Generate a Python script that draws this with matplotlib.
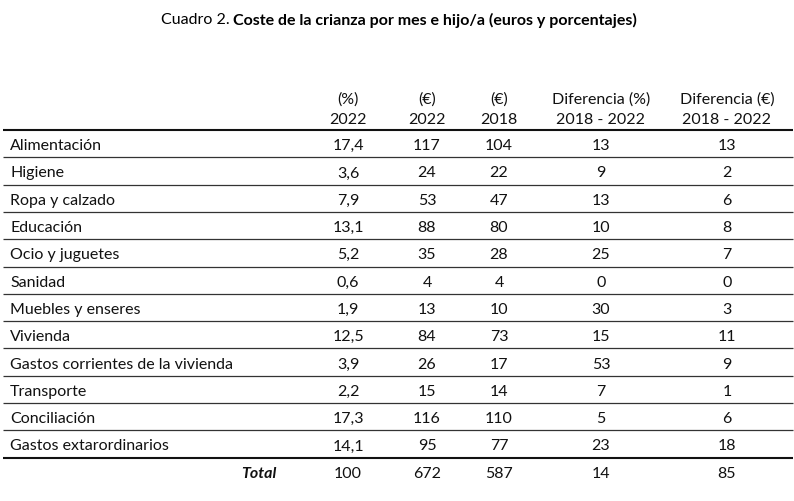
import matplotlib
matplotlib.use("Agg")
import matplotlib.pyplot as plt

categories = ["Alimentación", "Higiene", "Ropa y calzado", "Educación", "Ocio y juguetes",
              "Sanidad", "Muebles y enseres", "Vivienda", "Gastos corrientes de la vivienda",
              "Transporte", "Conciliación", "Gastos extarordinarios"]
pct_2022 = ["17,4", "3,6", "7,9", "13,1", "5,2", "0,6", "1,9", "12,5", "3,9", "2,2", "17,3", "14,1"]
eur_2022 = [117, 24, 53, 88, 35, 4, 13, 84, 26, 15, 116, 95]
eur_2018 = [104, 22, 47, 80, 28, 4, 10, 73, 17, 14, 110, 77]
dif_pct = [13, 9, 13, 10, 25, 0, 30, 15, 53, 7, 5, 23]
dif_eur = [13, 2, 6, 8, 7, 0, 3, 11, 9, 1, 6, 18]
total_row = ["100", "672", "587", "14", "85"]
headers_top = ["(%)", "(€)", "(€)", "Diferencia (%)", "Diferencia (€)"]
headers_bottom = ["2022", "2022", "2018", "2018 - 2022", "2018 - 2022"]

W, H = 794, 502
fig = plt.figure(figsize=(W / 100, H / 100), dpi=100)
ax = fig.add_axes([0, 0, 1, 1])
ax.set_xlim(0, W)
ax.set_ylim(H, 0)
ax.axis("off")

FONT = "Lato"
fs = 11.5
col_x = [348, 427, 499, 601, 727]
label_x = 10
dy = 1.5

# Title
t1 = ax.text(0, 19 + dy, "Cuadro 2. ", fontsize=fs, family=FONT, va="center", ha="left")
t2 = ax.text(0, 19 + dy, "Coste de la crianza por mes e hijo/a (euros y porcentajes)",
             fontsize=fs, family=FONT, fontweight="bold", va="center", ha="left")
fig.canvas.draw()
r = fig.canvas.get_renderer()
w1 = t1.get_window_extent(r).width
w2 = t2.get_window_extent(r).width
start = 399 - (w1 + w2) / 2
t1.set_x(start)
t2.set_x(start + w1)

# Headers
for x, a, b in zip(col_x, headers_top, headers_bottom):
    ax.text(x, 98 + dy, a, fontsize=fs, family=FONT, ha="center", va="center", color="#111111")
    ax.text(x, 118 + dy, b, fontsize=fs, family=FONT, ha="center", va="center", color="#111111")

x0, x1 = 3, 793
ax.plot([x0, x1], [131, 131], color="#111111", lw=1.5, solid_capstyle="butt")

row_h = 27.3
first_line = 131
for i, cat in enumerate(categories):
    yc = first_line + row_h * i + row_h / 2 + dy
    vals = [pct_2022[i], eur_2022[i], eur_2018[i], dif_pct[i], dif_eur[i]]
    ax.text(label_x, yc, cat, fontsize=fs, family=FONT, ha="left", va="center", color="#111111")
    for x, v in zip(col_x, vals):
        ax.text(x, yc, str(v), fontsize=fs, family=FONT, ha="center", va="center", color="#111111")
    yl = first_line + row_h * (i + 1)
    if i < len(categories) - 1:
        ax.plot([x0, x1], [yl, yl], color="#333333", lw=0.9, solid_capstyle="butt")
    else:
        ax.plot([x0, x1], [yl, yl], color="#111111", lw=1.5, solid_capstyle="butt")

yt = first_line + row_h * len(categories) + 14 + dy
ax.text(277, yt, "Total", fontsize=fs, family=FONT, fontweight="bold", style="italic",
        ha="right", va="center", color="#111111")
for x, v in zip(col_x, total_row):
    ax.text(x, yt, v, fontsize=fs, family=FONT, ha="center", va="center", color="#111111")

fig.savefig("out.png", dpi=100, facecolor="white")
